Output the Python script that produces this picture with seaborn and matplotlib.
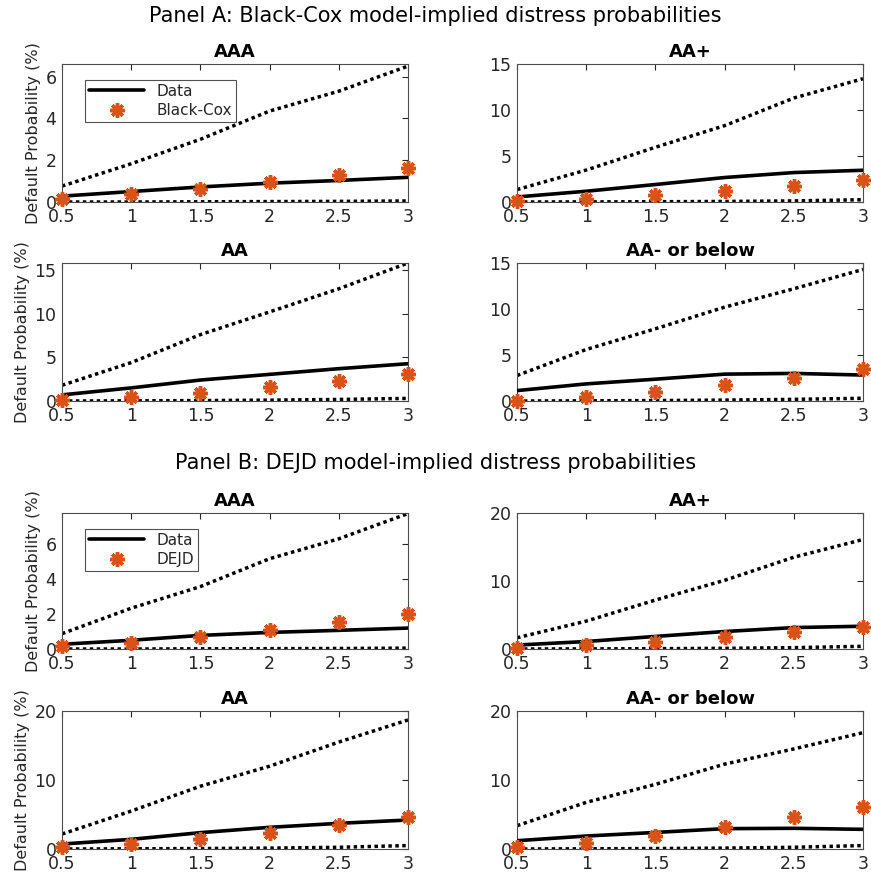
import matplotlib
matplotlib.use("Agg")
import matplotlib.pyplot as plt
import seaborn as sns
import pandas as pd
import numpy as np

sns.set_style("white")
plt.rcParams['font.family'] = ['DejaVu Sans']

maturity = [0.5, 1, 1.5, 2, 2.5, 3]
xtick_labels = ["0.5", "1", "1.5", "2", "2.5", "3"]
ratings = ["AAA", "AA+", "AA", "AA- or below"]

# Panel A: Black-Cox
a_data = {
    "AAA": [0.28, 0.50, 0.72, 0.90, 1.03, 1.18],
    "AA+": [0.55, 1.17, 1.90, 2.66, 3.20, 3.45],
    "AA": [0.70, 1.50, 2.40, 3.05, 3.70, 4.27],
    "AA- or below": [1.13, 1.86, 2.37, 2.92, 3.00, 2.82],
}
a_model = {
    "AAA": [0.13, 0.37, 0.62, 0.94, 1.27, 1.62],
    "AA+": [0.10, 0.33, 0.77, 1.20, 1.75, 2.34],
    "AA": [0.08, 0.46, 0.96, 1.60, 2.30, 3.08],
    "AA- or below": [0.05, 0.44, 1.00, 1.70, 2.55, 3.43],
}
a_upper = {
    "AAA": [0.76, 1.83, 3.00, 4.35, 5.30, 6.50],
    "AA+": [1.35, 3.47, 5.95, 8.30, 11.30, 13.40],
    "AA": [1.80, 4.40, 7.60, 10.20, 12.85, 15.80],
    "AA- or below": [2.77, 5.60, 7.85, 10.20, 12.20, 14.30],
}
a_lower = {
    "AAA": [0.0, 0.0, 0.01, 0.02, 0.03, 0.05],
    "AA+": [0.0, 0.01, 0.03, 0.06, 0.12, 0.25],
    "AA": [0.0, 0.02, 0.05, 0.10, 0.18, 0.30],
    "AA- or below": [0.0, 0.02, 0.05, 0.10, 0.18, 0.30],
}
# Panel B: DEJD
b_data = {
    "AAA": [0.27, 0.50, 0.78, 0.95, 1.07, 1.20],
    "AA+": [0.58, 1.10, 1.85, 2.57, 3.15, 3.35],
    "AA": [0.72, 1.40, 2.37, 3.14, 3.72, 4.20],
    "AA- or below": [1.20, 1.88, 2.40, 2.95, 3.00, 2.85],
}
b_model = {
    "AAA": [0.15, 0.36, 0.70, 1.09, 1.54, 2.02],
    "AA+": [0.20, 0.58, 1.07, 1.70, 2.43, 3.30],
    "AA": [0.24, 0.77, 1.40, 2.37, 3.48, 4.59],
    "AA- or below": [0.34, 0.92, 1.88, 3.19, 4.59, 6.09],
}
b_upper = {
    "AAA": [0.88, 2.34, 3.58, 5.18, 6.32, 7.77],
    "AA+": [1.65, 4.10, 7.20, 10.10, 13.50, 16.10],
    "AA": [2.17, 5.50, 9.10, 12.00, 15.50, 18.70],
    "AA- or below": [3.38, 6.76, 9.37, 12.30, 14.50, 16.86],
}
b_lower = {
    "AAA": [0.0, 0.0, 0.01, 0.02, 0.03, 0.05],
    "AA+": [0.0, 0.02, 0.05, 0.10, 0.20, 0.40],
    "AA": [0.0, 0.03, 0.07, 0.13, 0.25, 0.50],
    "AA- or below": [0.0, 0.03, 0.07, 0.13, 0.25, 0.50],
}

a_ylim = {"AAA": 6.6, "AA+": 15, "AA": 15.8, "AA- or below": 15}
a_yticks = {"AAA": [0, 2, 4, 6], "AA+": [0, 5, 10, 15], "AA": [0, 5, 10, 15], "AA- or below": [0, 5, 10, 15]}
b_ylim = {"AAA": 7.8, "AA+": 20, "AA": 20, "AA- or below": 20}
b_yticks = {"AAA": [0, 2, 4, 6], "AA+": [0, 10, 20], "AA": [0, 10, 20], "AA- or below": [0, 10, 20]}

W, H = 871, 874
fig = plt.figure(figsize=(W / 100, H / 100), dpi=100)

col_left = [62, 517]
col_w = 346
rows = [(64, 202), (263, 401), (513, 649), (711, 849)]

orange = "#D95319"
axcol = "#262626"

def make_ax(col, row):
    l = col_left[col]
    t, b = rows[row]
    return fig.add_axes([l / W, 1 - b / H, col_w / W, (b - t) / H])

panels = [
    ("Black-Cox", a_data, a_model, a_upper, a_lower, a_ylim, a_yticks, 0),
    ("DEJD", b_data, b_model, b_upper, b_lower, b_ylim, b_yticks, 2),
]

for model_name, dd, mm, uu, ll, ylims, yticks, row0 in panels:
    for i, r in enumerate(ratings):
        col = i % 2
        row = row0 + i // 2
        ax = make_ax(col, row)
        df = pd.DataFrame({"m": maturity, "data": dd[r], "model": mm[r],
                           "upper": uu[r], "lower": ll[r]})
        sns.lineplot(data=df, x="m", y="data", ax=ax, color="black", lw=2.6,
                     label="Data", zorder=3)
        sns.lineplot(data=df, x="m", y="model", ax=ax, color=orange,
                     linestyle="", marker=(8, 2, 0), markersize=10.5,
                     markeredgewidth=2.5, markeredgecolor=orange,
                     label=model_name, zorder=4, clip_on=False)
        sns.lineplot(data=df, x="m", y="upper", ax=ax, color="black", lw=2.5,
                     linestyle=(0, (1, 1)), zorder=2, label="_u")
        sns.lineplot(data=df, x="m", y="lower", ax=ax, color="black", lw=2.5,
                     linestyle=(0, (1, 1)), zorder=2, label="_l")
        ax.set_xlim(0.5, 3)
        ax.set_ylim(0, ylims[r])
        ax.set_xticks(maturity)
        ax.set_xticklabels(xtick_labels)
        ax.set_yticks(yticks[r])
        ax.set_xlabel("")
        if col == 0:
            ax.set_ylabel("Default Probability (%)", fontsize=11.5, color=axcol, labelpad=3)
        else:
            ax.set_ylabel("")
        ax.set_title(r, fontsize=13, fontweight="bold", pad=5, color="black")
        ax.tick_params(direction="in", length=4, width=0.8, colors=axcol,
                       labelsize=12.5, top=True, right=True, labelcolor=axcol)
        ax.tick_params(axis="x", pad=4)
        ax.tick_params(axis="y", pad=4)
        for s in ax.spines.values():
            s.set_color("#4d4d4d")
            s.set_linewidth(0.8)
        if i == 0:
            handles, labels = ax.get_legend_handles_labels()
            keep = [(h, lb) for h, lb in zip(handles, labels) if not lb.startswith("_")]
            leg = ax.legend([k[0] for k in keep], [k[1] for k in keep],
                            loc="upper left", bbox_to_anchor=(0.045, 0.94),
                            fontsize=11, frameon=True, fancybox=False,
                            edgecolor="#262626", handlelength=3.6,
                            borderpad=0.25, labelspacing=0.3)
            leg.get_frame().set_linewidth(0.8)
        else:
            if ax.get_legend() is not None:
                ax.get_legend().remove()

fig.text(0.5, 1 - 16 / H, "Panel A: Black-Cox model-implied distress probabilities",
         ha="center", va="center", fontsize=15, color="black")
fig.text(0.5, 1 - 463 / H, "Panel B: DEJD model-implied distress probabilities",
         ha="center", va="center", fontsize=15, color="black")

fig.savefig("out.png", dpi=100, facecolor="white")
